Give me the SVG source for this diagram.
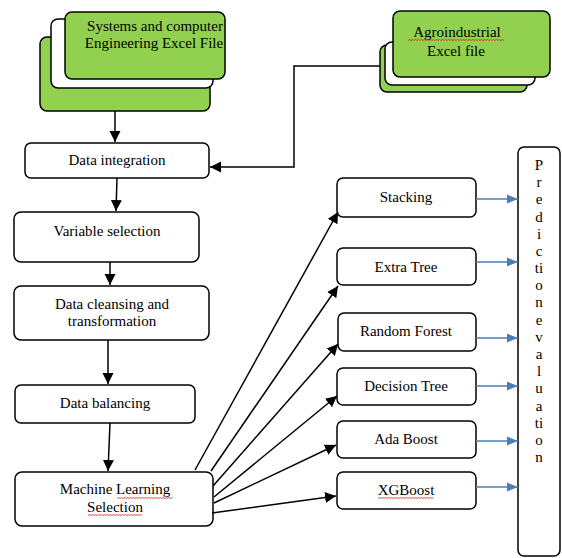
<svg xmlns="http://www.w3.org/2000/svg" width="562" height="558" viewBox="0 0 562 558" font-family="'Liberation Serif', 'DejaVu Serif', serif">
<style>
.box{fill:#fff;stroke:#000;stroke-width:1.5}
.grn{fill:#92d050;stroke:#000;stroke-width:1.5}
text{font-family:'Liberation Serif','DejaVu Serif',serif;font-size:15px;fill:#000;text-anchor:middle}
.c{fill:none;stroke:#000;stroke-width:1.5}
.b{fill:none;stroke:#4a7ebb;stroke-width:1.5}
.sq{fill:none;stroke:#e02020;stroke-width:0.8}
</style>
<defs>
<marker id="ah" markerUnits="userSpaceOnUse" markerWidth="12" markerHeight="12" viewBox="0 0 12 12" refX="11" refY="6" orient="auto">
<path d="M0,0.5 L11,6 L0,11.5 Z" fill="#000"/>
</marker>
<marker id="bh" markerUnits="userSpaceOnUse" markerWidth="12" markerHeight="12" viewBox="0 0 12 12" refX="11" refY="6" orient="auto">
<path d="M0,1.5 L11,6 L0,10.5 Z" fill="#4a7ebb"/>
</marker>
</defs>

<g id="systems-file">
<rect class="grn" x="40" y="37" width="170" height="74" rx="7"/>
<rect class="box" x="51" y="19" width="162" height="69" rx="7"/>
<rect class="grn" x="65" y="12" width="160" height="67" rx="7"/>
<text x="155" y="31">Systems and computer</text>
<text x="154" y="48">Engineering Excel File</text>
</g>

<g id="agro-file">
<rect class="grn" x="380" y="45" width="147" height="47" rx="7"/>
<rect class="box" x="385" y="42" width="150" height="43" rx="7"/>
<rect class="grn" x="393" y="11" width="157" height="66" rx="7"/>
<text x="457" y="37">Agroindustrial</text>
<text x="456" y="56">Excel file</text>
<path class="sq" d="M408,40.5 l1.5,-1 l1.5,1 l1.5,-1 l1.5,1 l1.5,-1 l1.5,1 l1.5,-1 l1.5,1 l1.5,-1 l1.5,1 l1.5,-1 l1.5,1 l1.5,-1 l1.5,1 l1.5,-1 l1.5,1 l1.5,-1 l1.5,1 l1.5,-1 l1.5,1 l1.5,-1 l1.5,1 l1.5,-1 l1.5,1 l1.5,-1 l1.5,1 l1.5,-1 l1.5,1 l1.5,-1 l1.5,1 l1.5,-1 l1.5,1 l1.5,-1 l1.5,1 l1.5,-1 l1.5,1 l1.5,-1 l1.5,1 l1.5,-1 l1.5,1 l1.5,-1 l1.5,1 l1.5,-1 l1.5,1 l1.5,-1 l1.5,1 l1.5,-1 l1.5,1 l1.5,-1 l1.5,1 l1.5,-1 l1.5,1 l1.5,-1 l1.5,1 l1.5,-1 l1.5,1 l1.5,-1 l1.5,1 l1.5,-1 l1.5,1 l1.5,-1 l1.5,1 l1.5,-1 l1.5,1"/>
</g>

<g id="data-integration">
<rect class="box" x="25" y="143" width="184" height="35" rx="6"/>
<text x="117" y="165">Data integration</text>
</g>

<g id="variable-selection">
<rect class="box" x="14" y="212" width="185" height="50" rx="7"/>
<text x="107" y="236">Variable selection</text>
</g>

<g id="data-cleansing">
<rect class="box" x="14" y="286" width="195" height="54" rx="7"/>
<text x="112" y="309">Data cleansing and</text>
<text x="112" y="326">transformation</text>
</g>

<g id="data-balancing">
<rect class="box" x="15" y="385" width="180" height="38" rx="6"/>
<text x="105" y="408">Data balancing</text>
</g>

<g id="ml-selection">
<rect class="box" x="15" y="472" width="198" height="54" rx="7"/>
<text x="115" y="494">Machine Learning</text>
<text x="115" y="512">Selection</text>
<path class="sq" d="M117,498.5 l1.5,-1 l1.5,1 l1.5,-1 l1.5,1 l1.5,-1 l1.5,1 l1.5,-1 l1.5,1 l1.5,-1 l1.5,1 l1.5,-1 l1.5,1 l1.5,-1 l1.5,1 l1.5,-1 l1.5,1 l1.5,-1 l1.5,1 l1.5,-1 l1.5,1 l1.5,-1 l1.5,1 l1.5,-1 l1.5,1 l1.5,-1 l1.5,1 l1.5,-1 l1.5,1 l1.5,-1 l1.5,1 l1.5,-1 l1.5,1 l1.5,-1 l1.5,1 l1.5,-1 l1.5,1 l1.5,-1"/>
<path class="sq" d="M88,515.5 l1.5,-1 l1.5,1 l1.5,-1 l1.5,1 l1.5,-1 l1.5,1 l1.5,-1 l1.5,1 l1.5,-1 l1.5,1 l1.5,-1 l1.5,1 l1.5,-1 l1.5,1 l1.5,-1 l1.5,1 l1.5,-1 l1.5,1 l1.5,-1 l1.5,1 l1.5,-1 l1.5,1 l1.5,-1 l1.5,1 l1.5,-1 l1.5,1 l1.5,-1 l1.5,1 l1.5,-1 l1.5,1 l1.5,-1 l1.5,1 l1.5,-1 l1.5,1 l1.5,-1 l1.5,1"/>
</g>

<g id="stacking">
<rect class="box" x="337" y="178" width="139" height="39" rx="6"/>
<text x="406" y="202">Stacking</text>
</g>
<g id="extra-tree">
<rect class="box" x="337" y="248" width="139" height="37" rx="6"/>
<text x="406" y="272">Extra Tree</text>
</g>
<g id="random-forest">
<rect class="box" x="338" y="313" width="138" height="38" rx="6"/>
<text x="406" y="336">Random Forest</text>
</g>
<g id="decision-tree">
<rect class="box" x="337" y="368" width="139" height="37" rx="6"/>
<text x="406" y="391">Decision Tree</text>
</g>
<g id="ada-boost">
<rect class="box" x="337" y="421" width="139" height="37" rx="6"/>
<text x="406" y="444">Ada Boost</text>
</g>
<g id="xgboost">
<rect class="box" x="337" y="472" width="139" height="37" rx="6"/>
<text x="406" y="495">XGBoost</text>
<path class="sq" d="M378,498.5 l1.5,-1 l1.5,1 l1.5,-1 l1.5,1 l1.5,-1 l1.5,1 l1.5,-1 l1.5,1 l1.5,-1 l1.5,1 l1.5,-1 l1.5,1 l1.5,-1 l1.5,1 l1.5,-1 l1.5,1 l1.5,-1 l1.5,1 l1.5,-1 l1.5,1 l1.5,-1 l1.5,1 l1.5,-1 l1.5,1 l1.5,-1 l1.5,1 l1.5,-1 l1.5,1 l1.5,-1 l1.5,1 l1.5,-1 l1.5,1 l1.5,-1 l1.5,1 l1.5,-1 l1.5,1 l1.5,-1"/>
</g>

<g id="prediction-evaluation">
<rect class="box" x="518" y="147" width="42" height="409" rx="6"/>
<text x="539" y="170">P</text>
<text x="539" y="187.2">r</text>
<text x="539" y="204.4">e</text>
<text x="539" y="221.5">d</text>
<text x="539" y="238.7">i</text>
<text x="539" y="255.9">c</text>
<text x="539" y="273.1">ti</text>
<text x="539" y="290.3">o</text>
<text x="539" y="307.4">n</text>
<text x="539" y="324.6">e</text>
<text x="539" y="341.8">v</text>
<text x="539" y="359">a</text>
<text x="539" y="376.2">l</text>
<text x="539" y="393.3">u</text>
<text x="539" y="410.5">a</text>
<text x="539" y="427.7">ti</text>
<text x="539" y="444.9">o</text>
<text x="539" y="462.1">n</text>
</g>

<g id="connectors">
<line class="c" x1="115" y1="111" x2="115" y2="142" marker-end="url(#ah)"/>
<polyline class="c" points="380,66 294,66 294,167 210,167" marker-end="url(#ah)"/>
<line class="c" x1="117" y1="178" x2="116" y2="211" marker-end="url(#ah)"/>
<line class="c" x1="110" y1="262" x2="110" y2="285" marker-end="url(#ah)"/>
<line class="c" x1="108" y1="340" x2="108" y2="384" marker-end="url(#ah)"/>
<line class="c" x1="110" y1="423" x2="108" y2="471" marker-end="url(#ah)"/>
<line class="c" x1="195" y1="470" x2="338" y2="212" marker-end="url(#ah)"/>
<line class="c" x1="211" y1="471" x2="338" y2="286" marker-end="url(#ah)"/>
<line class="c" x1="213" y1="486" x2="338" y2="344" marker-end="url(#ah)"/>
<line class="c" x1="214" y1="497" x2="337" y2="396" marker-end="url(#ah)"/>
<line class="c" x1="214" y1="503" x2="336" y2="445" marker-end="url(#ah)"/>
<line class="c" x1="212" y1="513" x2="336" y2="496" marker-end="url(#ah)"/>
<line class="b" x1="476" y1="199" x2="518" y2="199" marker-end="url(#bh)"/>
<line class="b" x1="476" y1="262" x2="518" y2="262" marker-end="url(#bh)"/>
<line class="b" x1="476" y1="338" x2="518" y2="338" marker-end="url(#bh)"/>
<line class="b" x1="476" y1="386" x2="518" y2="386" marker-end="url(#bh)"/>
<line class="b" x1="476" y1="441" x2="518" y2="441" marker-end="url(#bh)"/>
<line class="b" x1="476" y1="487" x2="518" y2="487" marker-end="url(#bh)"/>
</g>
</svg>
